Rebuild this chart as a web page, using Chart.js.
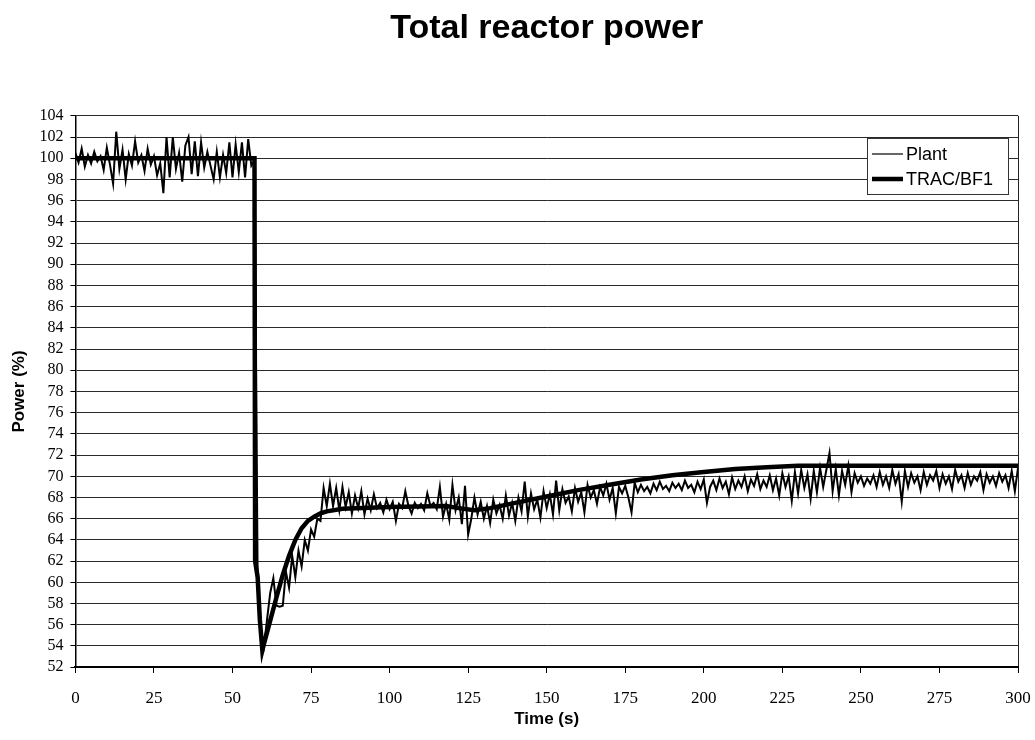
<!DOCTYPE html>
<html>
<head>
<meta charset="utf-8">
<title>Total reactor power</title>
<script src="https://cdn.jsdelivr.net/npm/chart.js@4/dist/chart.umd.min.js"></script>
<style>
	body { margin: 0; background: #ffffff; }
	#reactorPower { display: block; }
</style>
</head>
<body>
<canvas id="reactorPower" width="1035" height="740"></canvas>
<script>
// Total reactor power, plant measurement vs TRAC/BF1

// plant signal, one sample per second from t = 0 s to t = 300 s
let plantPower = [
	100.5, 99.6, 100.9, 99.2, 100.3, 99.5, 100.6, 99.7, 100.2, 98.9,
	101.0, 99.4, 97.6, 102.5, 99.0, 100.8, 98.0, 100.4, 99.3, 101.6,
	99.6, 100.3, 98.8, 100.9, 99.4, 100.2, 98.4, 99.5, 96.7, 102.0,
	98.2, 102.0, 99.0, 100.5, 97.8, 101.2, 102.0, 98.5, 101.6, 98.3,
	101.5, 99.1, 100.6, 99.3, 98.0, 100.6, 98.2, 100.3, 98.6, 101.5,
	98.2, 101.3, 98.7, 101.5, 98.2, 101.8, 99.3, 99.8, 60.8, 55.5,
	54.0, 56.5, 59.0, 60.4, 57.8, 57.7, 57.8, 61.0, 59.5, 62.5,
	60.5, 63.0, 61.5, 64.0, 63.0, 65.0, 64.3, 66.0, 65.8, 68.9,
	67.2, 69.3, 67.2, 68.9, 66.8, 69.0, 67.1, 68.5, 66.5, 68.2,
	67.0, 68.6, 66.4, 67.9, 66.8, 68.3, 67.0, 67.5, 66.6, 67.8,
	66.9, 67.6, 65.8, 67.4, 67.0, 68.6, 67.2, 66.5, 67.5, 67.0,
	67.4, 66.8, 68.4, 67.2, 67.5, 66.9, 69.0, 66.2, 67.4, 65.9,
	69.2, 66.8, 68.0, 65.5, 69.1, 64.5, 66.0, 68.0, 66.4, 67.6,
	66.0, 67.2, 65.6, 67.8, 66.5, 67.3, 66.0, 68.2, 66.3, 67.5,
	65.8, 68.0, 66.7, 69.5, 66.2, 68.4, 66.9, 67.8, 66.1, 68.6,
	67.0, 68.3, 66.4, 69.6, 66.8, 68.8, 67.5, 68.1, 66.7, 68.9,
	67.6, 68.5, 66.6, 69.2, 68.0, 68.7, 67.4, 69.0, 68.2, 69.3,
	67.8, 68.9, 66.5, 69.0, 68.4, 69.1, 68.0, 66.6, 69.4, 68.5,
	69.2, 68.6, 69.0, 68.4, 69.3, 68.7, 69.5, 68.8, 69.1, 68.6,
	69.4, 68.9, 69.3, 68.7, 69.6, 68.9, 69.2, 68.5, 69.5, 68.8,
	69.7, 67.5, 69.0, 69.6, 68.7, 69.8, 68.9, 69.5, 68.3, 69.9,
	68.8, 69.6, 69.0, 70.0, 68.6, 69.7, 69.1, 70.2, 68.8, 69.6,
	69.0, 70.1, 68.7, 69.8, 68.2, 70.3, 69.0, 70.0, 67.7, 70.4,
	68.4, 70.6, 68.9, 70.2, 67.9, 70.5, 68.5, 70.8, 69.0, 70.6,
	72.2, 68.6, 70.7, 68.2, 70.5, 69.2, 71.0, 68.5, 70.3, 69.4,
	70.0, 69.1, 69.8, 69.3, 70.1, 69.0, 70.4, 69.2, 70.0, 68.9,
	70.6, 69.3, 70.2, 67.6, 70.5, 69.0, 70.3, 69.4, 70.0, 68.7,
	70.4, 69.2, 70.1, 69.6, 70.5, 68.9, 70.2, 69.3, 70.0, 68.8,
	70.6, 69.5, 70.1, 68.9, 70.3, 69.2, 70.0, 69.6, 70.4, 68.7,
	70.2, 69.4, 70.0, 69.1, 70.3, 69.5, 70.1, 68.9, 70.5, 68.6,
	70.8
];

// TRAC/BF1 calculation
let tracTime = [0, 57, 57.2, 58, 58.7, 59.5, 60, 62, 64, 66, 68, 70, 72, 74, 76, 78, 80, 85, 100, 118, 122, 127, 132, 140, 150, 160, 170, 180, 190, 200, 210, 220, 230, 300];
let tracPower = [100, 100, 62, 60.5, 56.5, 53.6, 54.2, 56.4, 58.6, 60.7, 62.5, 64.0, 65.1, 65.8, 66.2, 66.5, 66.7, 66.95, 67.1, 67.2, 67.0, 66.8, 67.0, 67.5, 68.1, 68.7, 69.2, 69.7, 70.1, 70.4, 70.7, 70.85, 71.0, 71.0];

let timeTicks = [0, 25, 50, 75, 100, 125, 150, 175, 200, 225, 250, 275, 300];

let serifFont = '"Liberation Serif", "Times New Roman", serif';
let sansFont = '"Liberation Sans", Arial, Helvetica, sans-serif';

let $element_reactorPower = document.getElementById("reactorPower");
let ctx_reactorPower = $element_reactorPower.getContext("2d");

let data_reactorPower = {
	datasets: [{
		label: 'Plant',
		data: plantPower.map(function(v, i) { return { x: i, y: v }; }),
		borderColor: '#000000',
		borderWidth: 2,
		radius: 0,
		tension: 0,
		fill: false
	},
	{
		label: 'TRAC/BF1',
		data: tracTime.map(function(t, i) { return { x: t, y: tracPower[i] }; }),
		borderColor: '#000000',
		borderWidth: 4.5,
		radius: 0,
		tension: 0,
		fill: false
	}]
};

// legend sits inside the plot, top right
let legendBox_reactorPower = {
	id: 'legendBox_reactorPower',
	afterDraw: function(chart) {
		let c = chart.ctx;
		let area = chart.chartArea;
		let w = 141, h = 56;
		let x = Math.round(area.right - 10 - w);
		let y = Math.round(area.top + 22);
		c.save();
		c.fillStyle = '#ffffff';
		c.fillRect(x, y, w, h);
		c.strokeStyle = '#333333';
		c.lineWidth = 1;
		c.strokeRect(x + 0.5, y + 0.5, w, h);
		c.font = '18px ' + sansFont;
		c.textBaseline = 'middle';
		c.fillStyle = '#000000';
		chart.data.datasets.forEach(function(ds, i) {
			let ly = y + 16 + i * 25;
			c.beginPath();
			c.moveTo(x + 5, ly);
			c.lineTo(x + 36, ly);
			c.lineWidth = i === 0 ? 1.2 : ds.borderWidth;
			c.strokeStyle = ds.borderColor;
			c.stroke();
			c.fillText(ds.label, x + 39, ly + 1);
		});
		c.restore();
	}
};

let reactorPower = new Chart(ctx_reactorPower, {
	type: 'line',
	data: data_reactorPower,
	plugins: [legendBox_reactorPower],
	options: {
		responsive: false,
		animation: false,
		devicePixelRatio: 1,
		layout: {
			padding: { left: 7, right: 17, top: 0, bottom: 10 }
		},
		plugins: {
			legend: { display: false },
			tooltip: { enabled: false },
			title: {
				display: true,
				text: 'Total reactor power',
				fullSize: false,
				color: '#000000',
				font: { family: sansFont, size: 34, weight: 'bold' },
				padding: { top: 8, bottom: 67 }
			}
		},
		scales: {
			x: {
				type: 'linear',
				min: 0,
				max: 300,
				afterBuildTicks: function(axis) {
					axis.ticks = timeTicks.map(function(v) { return { value: v }; });
				},
				grid: {
					color: function(context) {
						return context.index === timeTicks.length - 1 ? '#222222' : 'rgba(0,0,0,0)';
					},
					tickColor: '#000000',
					tickLength: 21,
					tickBorderDash: [5, 40],
					lineWidth: 1
				},
				border: { display: true, color: '#000000', width: 2 },
				ticks: {
					color: '#000000',
					font: { family: serifFont, size: 17 },
					padding: 0,
					maxRotation: 0,
					autoSkip: false
				},
				title: {
					display: true,
					text: 'Time (s)',
					color: '#000000',
					font: { family: sansFont, size: 17, weight: 'bold' },
					padding: { top: 1, bottom: 0 }
				}
			},
			y: {
				min: 52,
				max: 104,
				ticks: {
					stepSize: 2,
					autoSkip: false,
					color: '#000000',
					font: { family: serifFont, size: 16 },
					padding: 7
				},
				grid: {
					color: '#2a2a2a',
					lineWidth: 1,
					tickColor: '#000000',
					tickLength: 5
				},
				border: { display: true, color: '#000000', width: 1.5 },
				title: {
					display: true,
					text: 'Power (%)',
					color: '#000000',
					font: { family: sansFont, size: 17, weight: 'bold' },
					padding: { top: 2, bottom: 3 }
				}
			}
		}
	}
});
</script>
</body>
</html>
